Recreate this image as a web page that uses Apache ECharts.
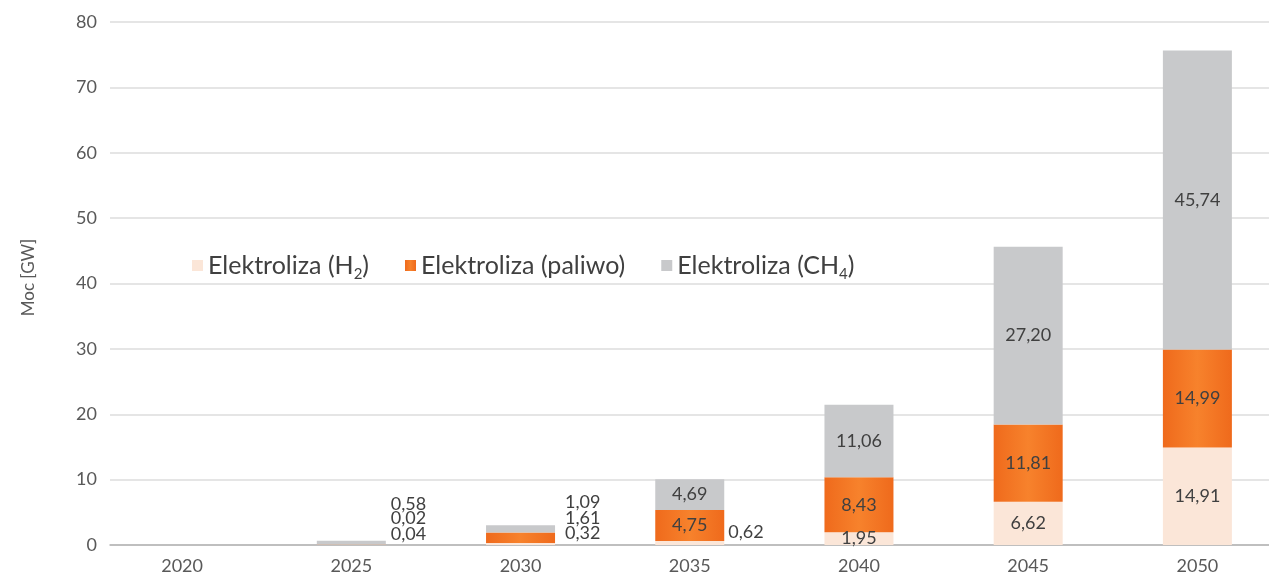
<!DOCTYPE html>
<html>
<head>
<meta charset="utf-8">
<script src="https://cdn.jsdelivr.net/npm/echarts@6/dist/echarts.min.js"></script>
<style>
  html, body { margin: 0; padding: 0; background: #ffffff; overflow: hidden; }
  /* the plot runs a little past the right edge of the page, so the last year band is cut */
  #chart { width: 1282px; height: 577px; }
</style>
</head>
<body>
<div id="chart"></div>
<script>
// Installed electrolysis capacity [GW] by year
const years  = ['2020', '2025', '2030', '2035', '2040', '2045', '2050'];
const h2     = [0, 0.04, 0.32, 0.62, 1.95, 6.62, 14.91];
const paliwo = [0, 0.02, 1.61, 4.75, 8.43, 11.81, 14.99];
const ch4    = [0, 0.58, 1.09, 4.69, 11.06, 27.20, 45.74];

const FONT = 'Lato, "Liberation Sans", sans-serif';
const TXT = '#595959';

// Thin segments get their value label set beside the bar: [series, year index, dx, dy]
const sideLabels = [
  [0, 1, 0, -11], [1, 1, 0, -26], [2, 1, 0, -39],
  [0, 2, 5, -11], [1, 2, 5, -19], [2, 2, 5, -27],
  [0, 3, -1, -11]
];

const fmt = v => (v ? v.toFixed(2).replace('.', ',') : '');

function buildData(values, sIdx) {
  return values.map((v, i) => {
    const side = sideLabels.find(s => s[0] === sIdx && s[1] === i);
    if (!side) return v;
    return { value: v, label: { position: 'right', distance: 5, offset: [side[2], side[3]] } };
  });
}

const orangeFill = new echarts.graphic.LinearGradient(0, 0, 1, 0, [
  { offset: 0, color: '#ef6a1c' },
  { offset: 0.5, color: '#f7822c' },
  { offset: 1, color: '#ef6a1c' }
]);

const barCommon = {
  type: 'bar',
  stack: 'total',
  xAxisIndex: 1,
  yAxisIndex: 1,
  barWidth: 69,
  label: {
    show: true,
    position: 'inside',
    fontFamily: FONT,
    fontSize: 18,
    color: '#404040',
    formatter: p => fmt(p.value)
  }
};

const chart = echarts.init(document.getElementById('chart'), null, { renderer: 'canvas' });

chart.setOption({
  animation: false,
  backgroundColor: '#ffffff',
  textStyle: { fontFamily: FONT },
  grid: [
    // gridlines and value axis
    { left: 110, right: 0, top: 22, bottom: 32 },
    // year bands
    { left: 97.5, right: 0, top: 22, bottom: 32 }
  ],
  legend: {
    left: 187,
    top: 248,
    itemWidth: 11,
    itemHeight: 11,
    itemGap: 36,
    icon: 'rect',
    textStyle: {
      fontFamily: FONT,
      fontSize: 25,
      color: '#404040',
      rich: {
        sub: { fontFamily: FONT, fontSize: 15, color: '#404040', padding: [18, 0, 0, 0] }
      }
    },
    formatter: name => ({
      'Elektroliza (H2)': 'Elektroliza (H{sub|2})',
      'Elektroliza (paliwo)': 'Elektroliza (paliwo)',
      'Elektroliza (CH4)': 'Elektroliza (CH{sub|4})'
    })[name]
  },
  xAxis: [
    {
      type: 'value', gridIndex: 0, min: 0, max: 1,
      axisLine: { show: true, lineStyle: { color: '#b3b3b3', width: 1.5 } },
      axisTick: { show: false }, axisLabel: { show: false }, splitLine: { show: false }
    },
    {
      type: 'category', gridIndex: 1, data: years,
      axisLine: { show: false }, axisTick: { show: false },
      axisLabel: { fontFamily: FONT, fontSize: 18, color: TXT, margin: 12 }
    }
  ],
  yAxis: [
    {
      type: 'value', gridIndex: 0, min: 0, max: 80, interval: 10,
      name: 'Moc [GW]', nameLocation: 'middle', nameGap: 73, nameRotate: 90,
      nameTextStyle: { fontFamily: FONT, fontSize: 17, color: TXT, padding: [0, 0, 0, 12] },
      axisLine: { show: false }, axisTick: { show: false },
      axisLabel: { fontFamily: FONT, fontSize: 18, color: TXT, margin: 13 },
      splitLine: { lineStyle: { color: '#dcdcdc', width: 1.5 } }
    },
    {
      type: 'value', gridIndex: 1, min: 0, max: 80, interval: 10, show: false,
      splitLine: { show: false }
    }
  ],
  series: [
    Object.assign({}, barCommon, {
      name: 'Elektroliza (H2)', data: buildData(h2, 0),
      itemStyle: { color: '#fbe6d8' }
    }),
    Object.assign({}, barCommon, {
      name: 'Elektroliza (paliwo)', data: buildData(paliwo, 1),
      itemStyle: { color: orangeFill }
    }),
    Object.assign({}, barCommon, {
      name: 'Elektroliza (CH4)', data: buildData(ch4, 2),
      itemStyle: { color: '#c8c9cb' }
    })
  ]
});
</script>
</body>
</html>
